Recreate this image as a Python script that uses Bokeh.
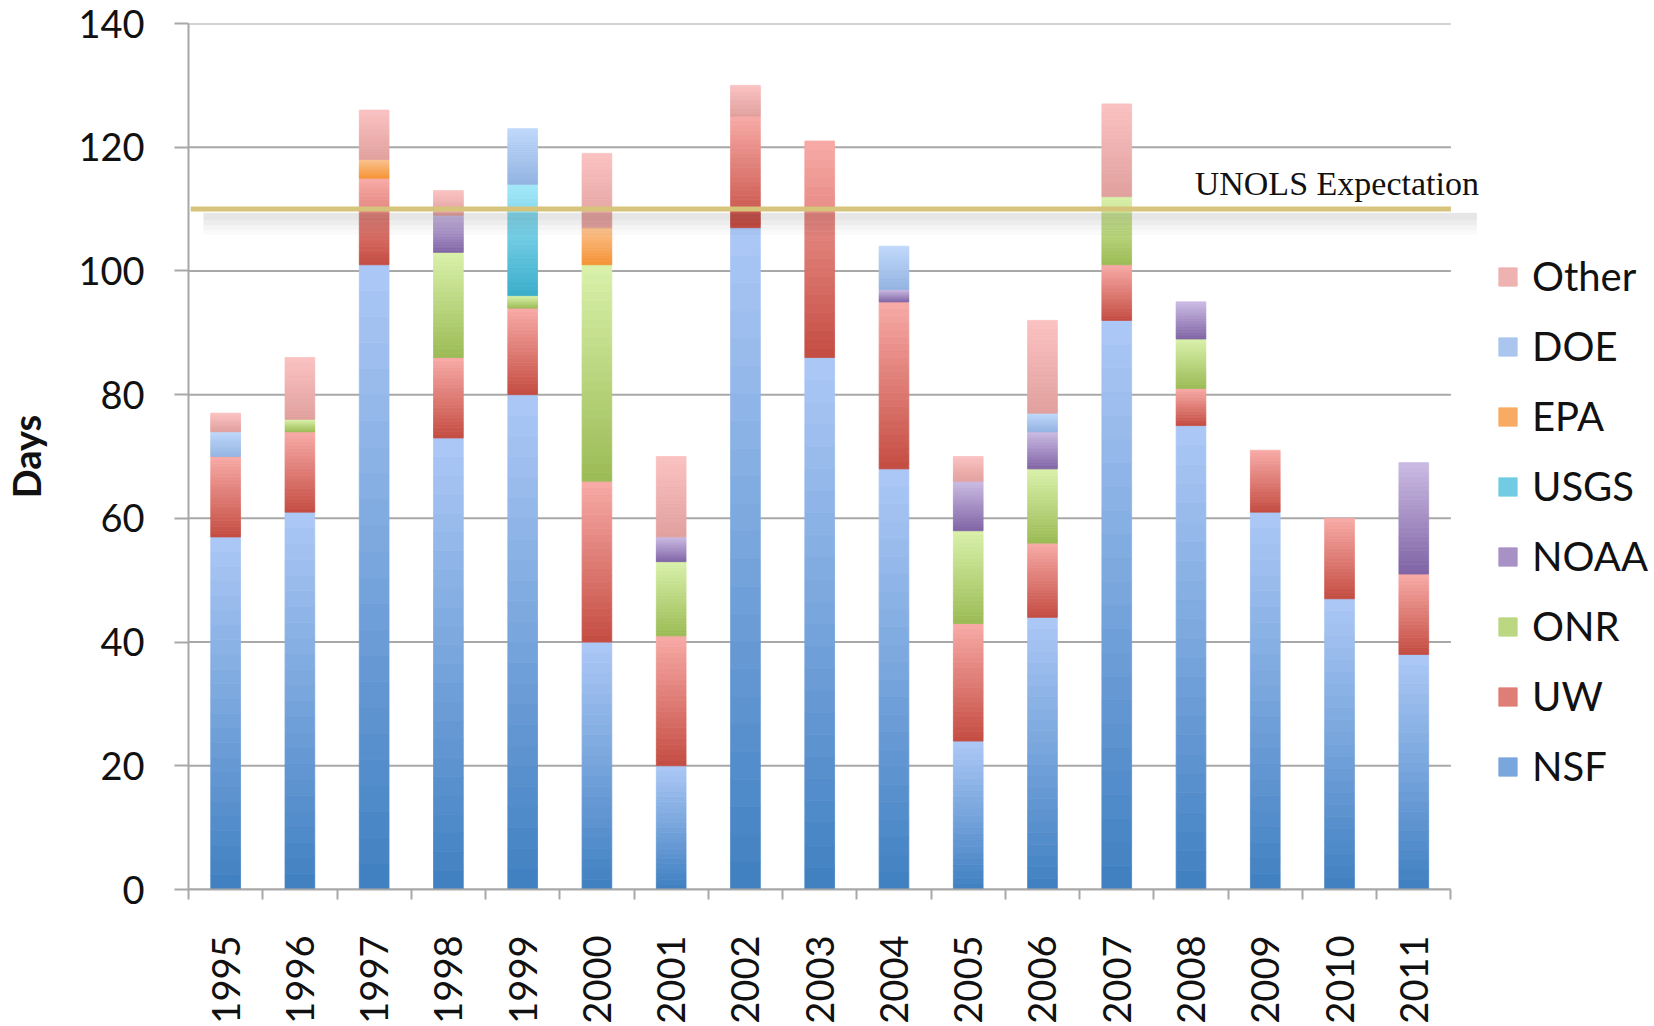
import math
from bokeh.plotting import figure
from bokeh.models import (Range1d, FixedTicker, Legend, LegendItem, Label,
                          BoxAnnotation, ColumnDataSource)
from bokeh.embed import file_html
from bokeh.resources import INLINE

# ---------------- data ----------------
years = ["1995", "1996", "1997", "1998", "1999", "2000", "2001", "2002", "2003",
         "2004", "2005", "2006", "2007", "2008", "2009", "2010", "2011"]
NSF   = [57, 61, 101, 73, 80, 40, 20, 107, 86, 68, 24, 44, 92, 75, 61, 47, 38]
UW    = [13, 13, 14, 13, 14, 26, 21, 18, 35, 27, 19, 12, 9, 6, 10, 13, 13]
ONR   = [0, 2, 0, 17, 2, 35, 12, 0, 0, 0, 15, 12, 11, 8, 0, 0, 0]
NOAA  = [0, 0, 0, 6, 0, 0, 4, 0, 0, 2, 8, 6, 0, 6, 0, 0, 18]
USGS  = [0, 0, 0, 0, 18, 0, 0, 0, 0, 0, 0, 0, 0, 0, 0, 0, 0]
EPA   = [0, 0, 3, 0, 0, 6, 0, 0, 0, 0, 0, 0, 0, 0, 0, 0, 0]
DOE   = [4, 0, 0, 0, 9, 0, 0, 0, 0, 7, 0, 3, 0, 0, 0, 0, 0]
Other = [3, 10, 8, 4, 0, 12, 13, 5, 0, 0, 4, 15, 15, 0, 0, 0, 0]
UNOLS_EXPECTATION = 110
y_ticks = [0, 20, 40, 60, 80, 100, 120, 140]

series_names = ["NSF", "UW", "ONR", "NOAA", "USGS", "EPA", "DOE", "Other"]
series_vals = [NSF, UW, ONR, NOAA, USGS, EPA, DOE, Other]
# (top light colour, bottom dark colour)
grad = {
    "NSF":   ("#adc9f6", "#3f7fc1"),
    "UW":    ("#f8aba7", "#c44c42"),
    "ONR":   ("#d9f1aa", "#9bbb55"),
    "NOAA":  ("#cbbbe3", "#7f63a5"),
    "USGS":  ("#a3e8f9", "#3aadcb"),
    "EPA":   ("#fbc28e", "#f59234"),
    "DOE":   ("#c0d8fb", "#92b3e1"),
    "Other": ("#fbc2c2", "#e0a09d"),
}


def hex2rgb(h):
    h = h.lstrip("#")
    return tuple(int(h[i:i + 2], 16) for i in (0, 2, 4))


def mix(c1, c2, t):
    a, b = hex2rgb(c1), hex2rgb(c2)
    return "#%02x%02x%02x" % tuple(int(round(a[i] + (b[i] - a[i]) * t)) for i in range(3))


n = len(years)
bar_w = 0.40
NS = 24  # slices per segment to imitate the gradient fill

W, H = 1654, 1026
LEFT, RIGHT_EDGE = 185, 1450          # plot area (categories) in screen px
unit = (RIGHT_EDGE - LEFT) / n        # px per category
x_end = (W - LEFT) / unit             # frame extends under the legend area

p = figure(width=W, height=H, output_backend="svg", toolbar_location=None,
           x_range=Range1d(0, x_end), y_range=Range1d(0, 140),
           min_border_left=LEFT, min_border_right=0, min_border_top=23,
           min_border_bottom=137, background_fill_color="white",
           border_fill_color="white", outline_line_color=None)

# horizontal grid lines limited to the category area
p.segment(x0=[0] * len(y_ticks), x1=[n] * len(y_ticks), y0=y_ticks, y1=y_ticks,
          line_color="#a8a8a8", line_width=2, level="underlay")

# stacked, gradient-filled segments
base = [0.0] * n
renderers = {}
for name, vals in zip(series_names, series_vals):
    light, dark = grad[name]
    L, R, B, T, C = [], [], [], [], []
    for i, v in enumerate(vals):
        if v <= 0:
            continue
        b0 = base[i]
        for k in range(NS):
            L.append(i + 0.5 - bar_w / 2)
            R.append(i + 0.5 + bar_w / 2)
            B.append(b0 + v * k / NS)
            T.append(b0 + v * (k + 1) / NS)
            C.append(mix(dark, light, (k + 0.5) / NS))
        base[i] = b0 + v
    src = ColumnDataSource(dict(left=L, right=R, bottom=B, top=T, color=C))
    renderers[name] = p.quad(left="left", right="right", bottom="bottom", top="top",
                             source=src, fill_color="color", line_color="color",
                             line_width=0.8)

# UNOLS expectation line with soft (layered) shadow
for depth, alpha in [(4.2, 0.018), (3.4, 0.022), (2.6, 0.026), (1.8, 0.026)]:
    p.add_layout(BoxAnnotation(left=0.2, right=n + 0.35,
                               top=UNOLS_EXPECTATION - 0.6,
                               bottom=UNOLS_EXPECTATION - depth,
                               fill_color="#000000", fill_alpha=alpha,
                               line_color=None))
p.line(x=[0.03, n], y=[UNOLS_EXPECTATION, UNOLS_EXPECTATION],
       line_color="#d7c47c", line_width=5)
p.add_layout(Label(x=n, y=UNOLS_EXPECTATION, x_offset=28, y_offset=26,
                   text="UNOLS Expectation", text_align="right",
                   text_baseline="alphabetic", text_font="Liberation Serif",
                   text_font_size="34px", text_color="#111111"))

# grid
p.xgrid.visible = False
p.ygrid.visible = False

# y axis
ya = p.yaxis[0]
ya.ticker = FixedTicker(ticks=y_ticks)
ya.axis_line_color = "#a8a8a8"
ya.axis_line_width = 2
ya.major_tick_line_color = "#a8a8a8"
ya.major_tick_line_width = 2
ya.major_tick_out = 14
ya.major_tick_in = 0
ya.minor_tick_line_color = None
ya.major_label_text_font = "Lato"
ya.major_label_text_font_size = "38px"
ya.major_label_text_color = "#111111"
ya.major_label_standoff = 30
ya.axis_label = "Days"
ya.axis_label_text_font = "Lato"
ya.axis_label_text_font_style = "bold"
ya.axis_label_text_font_size = "38px"
ya.axis_label_text_color = "#111111"
ya.axis_label_standoff = 26

# x axis: labels at bar centres, ticks at category boundaries
xa = p.xaxis[0]
centers = [i + 0.5 for i in range(n)]
xa.bounds = (0, n)
xa.ticker = FixedTicker(ticks=centers, minor_ticks=list(range(n + 1)))
xa.major_label_overrides = {c: y for c, y in zip(centers, years)}
xa.major_label_orientation = math.pi / 2
xa.major_tick_line_color = None
xa.major_tick_out = 0
xa.major_tick_in = 0
xa.minor_tick_line_color = "#a8a8a8"
xa.minor_tick_line_width = 2
xa.minor_tick_out = 10
xa.minor_tick_in = 0
xa.axis_line_color = "#a8a8a8"
xa.axis_line_width = 2
xa.major_label_text_font = "Lato"
xa.major_label_text_font_size = "38px"
xa.major_label_text_color = "#111111"
xa.major_label_standoff = 36

# legend (mid-gradient slice used as swatch colour)
items = [LegendItem(label=nm, renderers=[renderers[nm]], index=NS // 2)
         for nm in reversed(series_names)]
legend = Legend(items=items, location=(RIGHT_EDGE - LEFT + 43, 99),
                orientation="vertical",
                border_line_color=None, background_fill_alpha=0,
                label_text_font="Lato", label_text_font_size="40px",
                label_text_color="#111111",
                glyph_width=23, glyph_height=23, label_standoff=13,
                spacing=22, padding=10, margin=0, label_height=48)
p.add_layout(legend)

open("out.html", "w").write(file_html(p, INLINE))
